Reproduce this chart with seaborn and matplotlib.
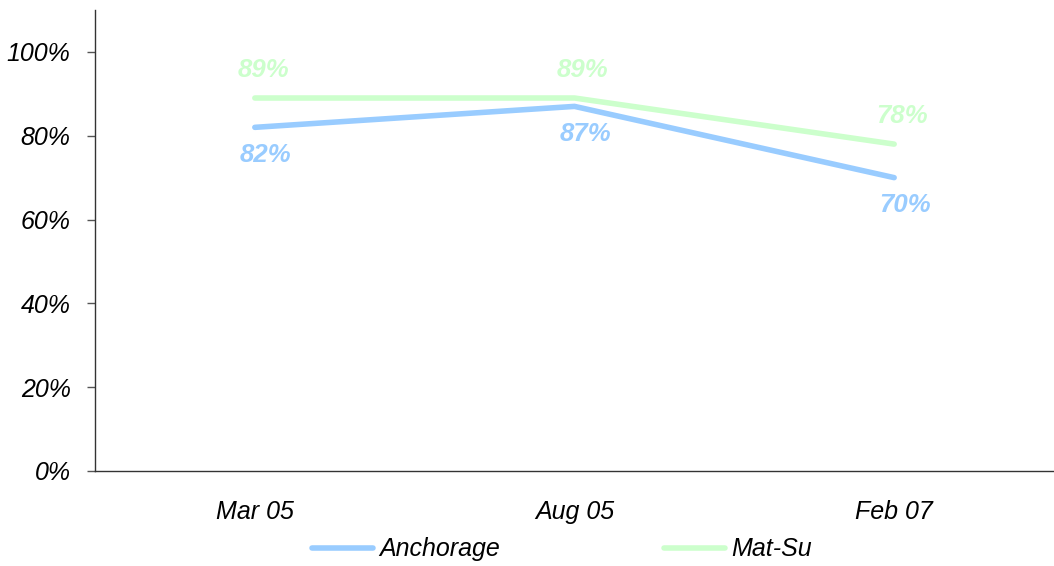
import matplotlib
matplotlib.use("Agg")
import matplotlib.pyplot as plt
import seaborn as sns
import pandas as pd
import numpy as np

categories = ["Mar 05", "Aug 05", "Feb 07"]
anchorage = [82, 87, 70]
matsu = [89, 89, 78]
series_names = ["Anchorage", "Mat-Su"]
colors = {"Anchorage": "#99CCFF", "Mat-Su": "#CCFFCC"}
yticks = [0, 20, 40, 60, 80, 100]

sns.set_theme(style="white")
plt.rcParams['font.family'] = ['Liberation Sans', 'DejaVu Sans']

df = pd.DataFrame({
    "x": list(range(len(categories))) * 2,
    "value": anchorage + matsu,
    "series": [series_names[0]] * 3 + [series_names[1]] * 3,
})

fig = plt.figure(figsize=(10.54, 5.66), dpi=100)
ax = fig.add_axes([95/1054, 95/566, 1 - 95/1054, (471-10)/566])

sns.lineplot(data=df, x="x", y="value", hue="series", palette=colors, ax=ax,
             linewidth=4.0, solid_capstyle="round", legend=True)

ax.set_xlim(-0.5, 2.485)
ax.set_ylim(0, 110)
ax.set_yticks(yticks)
ax.set_yticklabels([f"{v}%" for v in yticks], fontsize=18, style="italic", color="black")
ax.set_xticks(range(len(categories)))
ax.set_xticklabels(categories, fontsize=18, style="italic", color="black")
ax.set_xticks([-0.5, 0.5, 1.5, 2.5], minor=True)
ax.tick_params(axis="x", which="major", length=0, pad=21)
ax.tick_params(axis="x", which="minor", length=5.5, width=1, color="#555555", direction="out")
ax.tick_params(axis="y", length=5.5, width=1, color="#555555", direction="out", left=True, pad=12)
ax.set_xlabel("")
ax.set_ylabel("")
for s in ["top", "right"]:
    ax.spines[s].set_visible(False)
for s in ["left", "bottom"]:
    ax.spines[s].set_color("#333333")
    ax.spines[s].set_linewidth(1)

for i, v in enumerate(anchorage):
    ax.annotate(f"{v}%", (i, v), xytext=(8, -20), textcoords="offset points",
                ha="center", va="center", fontsize=18.5, fontweight="bold",
                style="italic", color=colors["Anchorage"])
for i, v in enumerate(matsu):
    ax.annotate(f"{v}%", (i, v), xytext=(6, 20), textcoords="offset points",
                ha="center", va="center", fontsize=18.5, fontweight="bold",
                style="italic", color=colors["Mat-Su"])

handles, labels = ax.get_legend_handles_labels()
leg = ax.legend(handles, labels, loc="center", bbox_to_anchor=(0.487, -0.17), ncol=2,
                frameon=False, prop={"size": 18, "style": "italic"},
                handlelength=2.45, columnspacing=6.55, handletextpad=0.25)
for t in leg.get_texts():
    t.set_color("black")

fig.savefig("out.png", dpi=100)
